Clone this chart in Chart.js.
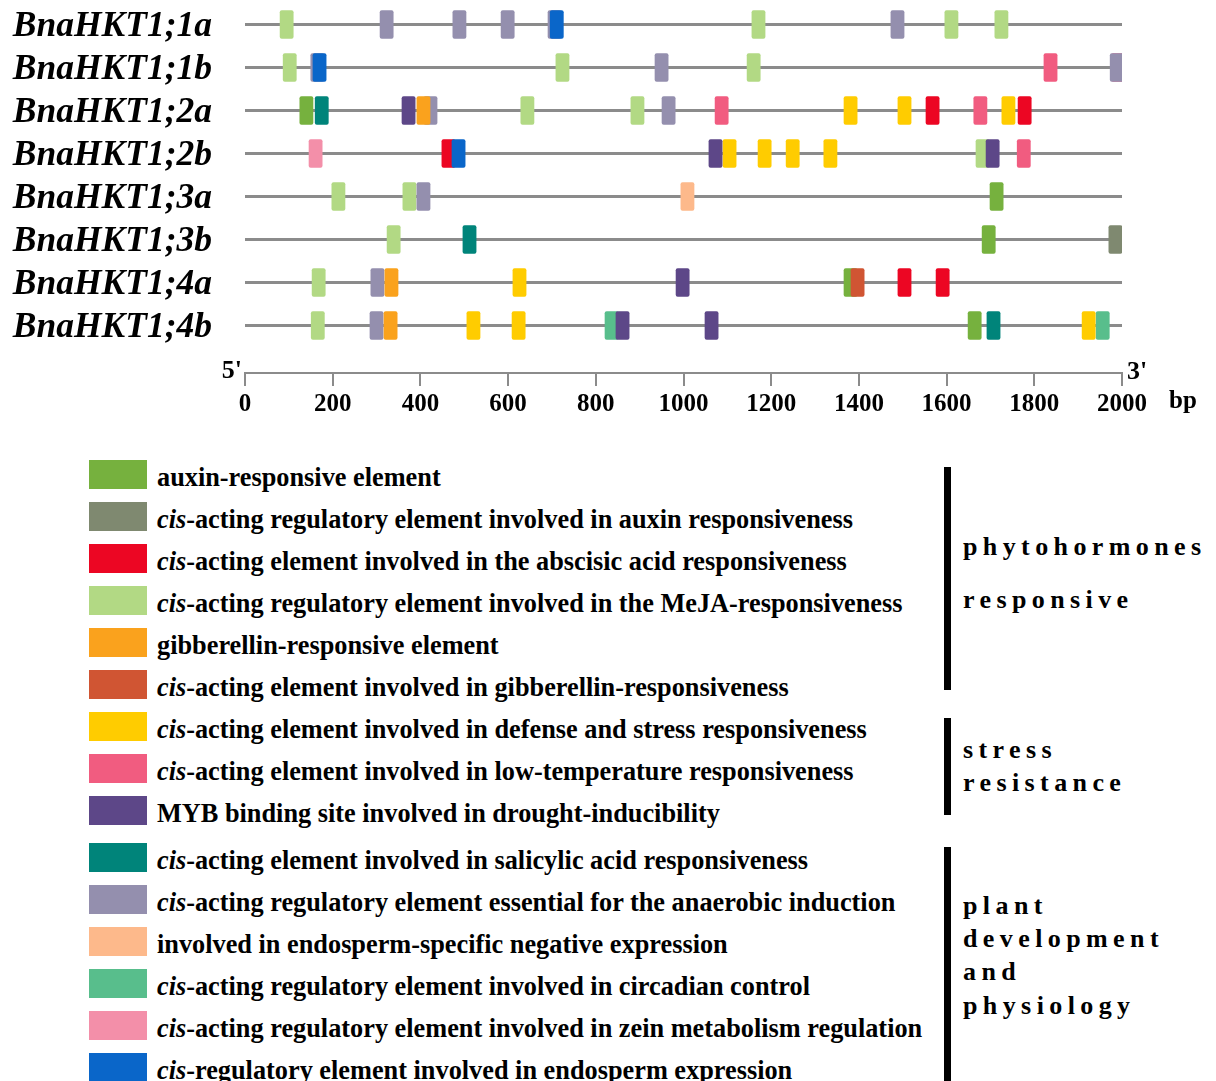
<!DOCTYPE html>
<html>
<head>
<meta charset="utf-8">
<title>BnaHKT1 promoter cis-elements</title>
<script src="https://cdn.jsdelivr.net/npm/chart.js@4.4.1/dist/chart.umd.min.js"></script>
<style>
  html, body { margin: 0; padding: 0; background: #fff; }
  body { width: 1216px; height: 1081px; position: relative; overflow: hidden;
         font-family: "Liberation Serif", "Times New Roman", serif; color: #000; }
  #wrap { position: absolute; left: 0; top: 0; width: 1216px; height: 430px; }
  .sw { position: absolute; left: 89px; width: 58px; height: 29px; }
  .lt { position: absolute; left: 157px; font-weight: bold; font-size: 26.3px; line-height: 26px; white-space: nowrap; }
  .gl { position: absolute; left: 963px; font-weight: bold; font-size: 26px; line-height: 26px; letter-spacing: 5.4px; white-space: nowrap; }
  .br { position: absolute; left: 944px; width: 7px; background: #000; }
</style>
</head>
<body>
<div id="wrap"><canvas id="c" width="1216" height="430"></canvas></div>
<div id="legend"></div>
<script>
// Promoters (2000 bp upstream of each gene)
const genes = ['BnaHKT1;1a', 'BnaHKT1;1b', 'BnaHKT1;2a', 'BnaHKT1;2b',
               'BnaHKT1;3a', 'BnaHKT1;3b', 'BnaHKT1;4a', 'BnaHKT1;4b'];
const xTicks = [0, 200, 400, 600, 800, 1000, 1200, 1400, 1600, 1800, 2000];
const siteLength = 30; // bp covered by one element box

// Start positions (bp) of each element, one inner list per promoter (same order as genes)
const auxinResponsive   = [[], [], [125], [], [1699], [1681], [1366], [1649]];
const auxinCis          = [[], [], [], [], [], [1970], [], []];
const abscisicAcid      = [[], [], [1553, 1763], [449], [], [], [1489, 1576], []];
const meja              = [[80, 1156, 1596, 1710], [87, 709, 1145], [629, 880], [1667], [198, 360], [324], [153], [151]];
const gibberellinResp   = [[], [], [392], [], [], [], [319], [317]];
const gibberellinCis    = [[], [], [], [], [], [], [1382], []];
const defenseStress     = [[], [], [1366, 1489, 1726], [1090, 1170, 1234, 1320], [], [], [611], [506, 609, 1909]];
const lowTemperature    = [[], [1822, 1976], [1072, 1662], [1761], [], [], [], []];
const mybDrought        = [[], [], [358], [1058, 1690], [], [], [983], [846, 1049]];
const salicylicAcid     = [[], [], [160], [], [], [497], [], [1692]];
const anaerobic         = [[308, 474, 584, 691, 1473], [150, 935, 1973], [408, 951], [], [392], [], [287], [285]];
const endospermNegative = [[], [], [], [], [994], [], [], []];
const circadian         = [[], [], [], [], [], [], [], [821, 1941]];
const zeinMetabolism    = [[], [], [], [146], [], [], [], []];
const endospermExpr     = [[696], [155], [], [472], [], [], [], []];

const elementSites = [auxinResponsive, auxinCis, abscisicAcid, meja, gibberellinResp, gibberellinCis,
                      defenseStress, lowTemperature, mybDrought, salicylicAcid, anaerobic,
                      endospermNegative, circadian, zeinMetabolism, endospermExpr];

const elementLabels = [
  'auxin-responsive element',
  'cis-acting regulatory element involved in auxin responsiveness',
  'cis-acting element involved in the abscisic acid responsiveness',
  'cis-acting regulatory element involved in the MeJA-responsiveness',
  'gibberellin-responsive element',
  'cis-acting element involved in gibberellin-responsiveness',
  'cis-acting element involved in defense and stress responsiveness',
  'cis-acting element involved in low-temperature responsiveness',
  'MYB binding site involved in drought-inducibility',
  'cis-acting element involved in salicylic acid responsiveness',
  'cis-acting regulatory element essential for the anaerobic induction',
  'involved in endosperm-specific negative expression',
  'cis-acting regulatory element involved in circadian control',
  'cis-acting regulatory element involved in zein metabolism regulation',
  'cis-regulatory element involved in endosperm expression'
];

const elementColors = ['#76B13E', '#7F8970', '#EC0623', '#B2D984', '#FAA21D', '#D05533',
                       '#FFCC00', '#F15C80', '#5D4788', '#00847A', '#948FAE',
                       '#FDB98B', '#58BE8C', '#F38FA9', '#0A66C9'];

// Functional groups of the elements
const groupLabels = [['phytohormones', 'responsive'], ['stress', 'resistance'],
                     ['plant', 'development', 'and', 'physiology']];

// Stacking where boxes overlap (lower = drawn on top)
const stacking = [5, 5, 5, 5, 2, 1, 5, 6, 3, 5, 4, 5, 5, 5, 0];

const datasets = elementSites.map((sites, k) => ({
  label: elementLabels[k],
  data: sites.flatMap((list, g) => list.map(s => ({ x: [s, s + siteLength], y: g }))),
  backgroundColor: elementColors[k],
  borderWidth: 0,
  borderRadius: 2,
  borderSkipped: false,
  barThickness: 28,
  grouped: false,
  order: stacking[k]
}));

const serif = '"Liberation Serif", "Times New Roman", serif';

// 5' / 3' ends and unit of the position axis
const endLabels = {
  id: 'endLabels',
  afterDraw(chart) {
    const { ctx, chartArea, scales: { x } } = chart;
    const x0 = x.getPixelForValue(xTicks[0]);
    const x1 = x.getPixelForValue(xTicks[xTicks.length - 1]);
    ctx.save();
    ctx.fillStyle = '#000';
    ctx.textBaseline = 'alphabetic';
    ctx.font = 'bold 26px ' + serif;
    ctx.textAlign = 'right';
    ctx.fillText("5'", x0 - 3, chartArea.bottom + 5);
    ctx.textAlign = 'left';
    ctx.fillText("3'", x1 + 5, chartArea.bottom + 6);
    ctx.font = 'bold 25px ' + serif;
    ctx.fillText('bp', x1 + 47, chartArea.bottom + 35);
    ctx.restore();
  }
};

new Chart(document.getElementById('c'), {
  type: 'bar',
  data: { datasets },
  options: {
    indexAxis: 'y',
    responsive: false,
    animation: false,
    devicePixelRatio: 1,
    layout: { padding: { left: 0, right: 94, top: 0, bottom: 0 } },
    plugins: { legend: { display: false }, tooltip: { enabled: false } },
    scales: {
      y: {
        type: 'linear',
        reverse: true,
        offset: false,
        min: -0.57,
        max: 8.105,
        afterBuildTicks: s => { s.ticks = genes.map((_, i) => ({ value: i })); },
        afterFit: s => { s.width = 245; s.paddingTop = 0; s.paddingBottom = 0; },
        ticks: {
          autoSkip: false,
          callback: v => genes[v],
          color: '#000',
          padding: 33,
          labelOffset: 2,
          font: { family: serif, size: 35.5, weight: 'bold', style: 'italic' }
        },
        grid: { offset: false, color: '#8b8b8b', lineWidth: 3, drawTicks: false },
        border: { display: false }
      },
      x: {
        type: 'linear',
        position: 'bottom',
        min: xTicks[0],
        max: xTicks[xTicks.length - 1],
        afterBuildTicks: s => { s.ticks = xTicks.map(v => ({ value: v })); },
        afterFit: s => { s.height = 57; },
        ticks: {
          autoSkip: false,
          maxRotation: 0,
          callback: v => String(v),
          color: '#000',
          padding: 4,
          font: { family: serif, size: 25, weight: 'bold' }
        },
        grid: { drawOnChartArea: false, drawTicks: true, tickLength: 13, color: '#8b8b8b', lineWidth: 2 },
        border: { display: true, color: '#8b8b8b', width: 2 }
      }
    }
  },
  plugins: [endLabels]
});

// Legend with functional groups
const legend = document.getElementById('legend');
const rowTop = i => 460 + i * 42 + (i >= 9 ? 5 : 0);
elementLabels.forEach((label, i) => {
  const sw = document.createElement('div');
  sw.className = 'sw';
  sw.style.top = rowTop(i) + 'px';
  sw.style.background = elementColors[i];
  legend.appendChild(sw);
  const t = document.createElement('div');
  t.className = 'lt';
  t.style.top = (rowTop(i) + 5) + 'px';
  if (label.startsWith('cis-')) {
    const it = document.createElement('i');
    it.textContent = 'cis';
    t.appendChild(it);
    t.appendChild(document.createTextNode(label.slice(3)));
  } else {
    t.textContent = label;
  }
  legend.appendChild(t);
});

const bracketSpans = [[467, 690], [718, 815], [847, 1081]];
const groupBaselines = [[556, 609], [759, 792], [915, 948, 981, 1015]];
bracketSpans.forEach(([top, bottom], g) => {
  const b = document.createElement('div');
  b.className = 'br';
  b.style.top = top + 'px';
  b.style.height = (bottom - top) + 'px';
  legend.appendChild(b);
  groupLabels[g].forEach((line, j) => {
    const d = document.createElement('div');
    d.className = 'gl';
    d.style.top = (groupBaselines[g][j] - 22) + 'px';
    d.textContent = line;
    legend.appendChild(d);
  });
});
</script>
</body>
</html>
